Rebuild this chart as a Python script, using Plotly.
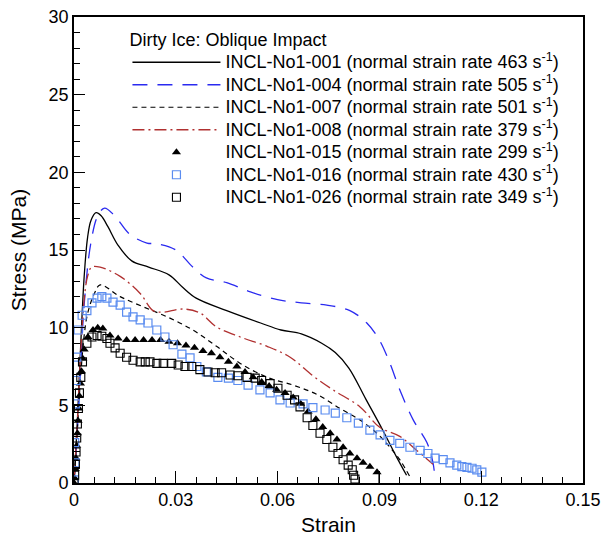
import plotly.graph_objects as go

# ---- data ----
s001_x = [0.0, 0.001, 0.002, 0.003, 0.004, 0.005, 0.0065, 0.008, 0.010, 0.013, 0.017, 0.022, 0.028, 0.032,
          0.036, 0.045, 0.055, 0.061, 0.067, 0.073, 0.077, 0.081, 0.086, 0.091, 0.095, 0.098]
s001_y = [0.0, 4.0, 9.0, 13.3, 15.8, 16.9, 17.4, 17.2, 16.5, 15.3, 14.3, 13.9, 13.4, 12.6,
          11.9, 11.1, 10.3, 9.85, 9.6, 9.0, 8.4, 7.4, 5.4, 3.4, 1.7, 0.5]

s004_x = [0.0, 0.001, 0.002, 0.003, 0.005, 0.007, 0.009, 0.012, 0.0165, 0.0215, 0.0245, 0.030, 0.035, 0.039,
          0.045, 0.052, 0.060, 0.067, 0.0745, 0.0813, 0.0863, 0.090, 0.0931, 0.096, 0.100, 0.104, 0.1058, 0.1064]
s004_y = [0.0, 3.5, 7.5, 11.5, 15.5, 17.2, 17.7, 17.2, 16.0, 15.45, 15.4, 15.0, 13.9, 13.2,
          12.9, 12.3, 11.8, 11.6, 11.45, 11.1, 10.3, 9.2, 7.7, 6.0, 4.05, 2.6, 1.3, 0.2]

s007_x = [0.0, 0.001, 0.002, 0.003, 0.004, 0.006, 0.0077, 0.0136, 0.0203, 0.0274, 0.035, 0.042, 0.049,
          0.057, 0.0646, 0.0716, 0.0784, 0.0843, 0.0893, 0.0931, 0.096, 0.099]
s007_y = [0.0, 3.5, 7.0, 9.5, 10.9, 12.2, 12.75, 12.0, 11.35, 10.7, 9.85, 8.8, 7.7,
          6.8, 6.3, 5.7, 4.8, 4.05, 3.2, 2.3, 1.5, 0.4]

s008_x = [0.0, 0.001, 0.002, 0.003, 0.004, 0.0052, 0.0077, 0.0136, 0.0195, 0.0233, 0.0262, 0.0321, 0.0371,
          0.042, 0.049, 0.0569, 0.0637, 0.0704, 0.0763, 0.0843, 0.090, 0.096, 0.101, 0.1058]
s008_y = [0.0, 4.0, 8.5, 11.8, 13.3, 13.9, 13.9, 13.3, 12.2, 11.1, 11.0, 11.2, 10.95,
          10.05, 9.4, 8.8, 8.1, 6.9, 6.0, 4.9, 3.6, 3.0, 2.1, 1.2]

s015_x = [0.0, 0.0002, 0.0004, 0.0006, 0.0008, 0.001, 0.0012, 0.0014, 0.0016, 0.0019, 0.0022, 0.0026,
          0.003, 0.0041, 0.0056, 0.007, 0.0085, 0.0106, 0.013, 0.0155, 0.018, 0.0205, 0.023, 0.0255,
          0.028, 0.0305, 0.033, 0.0355, 0.038, 0.0405, 0.043, 0.0455, 0.048, 0.0504, 0.0528, 0.0553,
          0.0575, 0.0597, 0.0622, 0.0646, 0.0668, 0.069, 0.0713, 0.0733, 0.0755, 0.0775, 0.0793,
          0.0813, 0.0834, 0.0852, 0.0872, 0.0893]
s015_y = [0.0, 0.3, 0.9, 1.6, 2.4, 3.2, 4.0, 4.8, 5.6, 6.4, 7.2, 8.0,
          8.6, 9.4, 9.85, 10.0, 9.95, 9.5, 9.3, 9.2, 9.2, 9.2, 9.2, 9.2,
          9.1, 9.0, 8.85, 8.7, 8.5, 8.35, 8.1, 7.8, 7.5, 7.15, 6.8, 6.5,
          6.25, 6.0, 5.8, 5.5, 5.1, 4.6, 4.1, 3.6, 3.2, 2.8, 2.3,
          1.9, 1.6, 1.3, 1.05, 0.7]
s015_tail_x = [0.0899, 0.0899]
s015_tail_y = [0.7, 0.0]

s016_x = [0.0001, 0.0003, 0.0002, 0.0004, 0.0006, 0.0008, 0.0012, 0.0024, 0.0038, 0.0053, 0.0068, 0.0082,
          0.0097, 0.0115, 0.0136, 0.0155, 0.0174, 0.0195, 0.0218, 0.0244, 0.0268, 0.0292, 0.0318, 0.0342,
          0.0362, 0.039, 0.0424, 0.0455, 0.0483, 0.0513, 0.0548, 0.0578, 0.0607, 0.0637, 0.0675, 0.0704,
          0.074, 0.077, 0.0804, 0.0838, 0.0872, 0.0902, 0.0931, 0.096, 0.099, 0.102, 0.1043, 0.1064,
          0.1088, 0.1108, 0.1128, 0.1143, 0.1158, 0.1173, 0.1187, 0.1202]
s016_y = [0.2, 1.3, 2.6, 5.1, 6.6, 8.1, 9.85, 10.8, 11.1, 11.6, 11.9, 12.0,
          11.9, 11.65, 11.45, 11.0, 10.7, 10.5, 10.3, 9.85, 9.4, 8.9, 8.3, 8.05,
          7.5, 7.15, 6.8, 6.75, 6.6, 6.3, 6.0, 5.8, 5.35, 5.15, 5.1, 4.85,
          4.7, 4.5, 4.2, 3.85, 3.4, 3.1, 2.75, 2.55, 2.3, 2.1, 1.9, 1.6,
          1.5, 1.3, 1.15, 1.05, 1.0, 0.95, 0.85, 0.7]

s026_x = [0.0, 0.0002, 0.0004, 0.0006, 0.0008, 0.001, 0.0013, 0.0016, 0.002, 0.0025, 0.0038, 0.0053,
          0.0068, 0.0082, 0.0097, 0.0106, 0.0121, 0.0136, 0.0155, 0.0174, 0.0195, 0.021, 0.0224, 0.0244,
          0.0263, 0.0288, 0.0307, 0.0327, 0.0347, 0.0371, 0.0395, 0.0416, 0.0435, 0.046, 0.0483, 0.051,
          0.0534, 0.0553, 0.0578, 0.0601, 0.0628, 0.065, 0.0666, 0.0687, 0.0704, 0.0725, 0.0745, 0.0763,
          0.0778, 0.0793, 0.0808, 0.082, 0.0824, 0.0828]
s026_y = [0.0, 0.5, 1.2, 2.0, 2.9, 3.8, 4.8, 5.8, 6.8, 7.8, 9.0, 9.4,
          9.5, 9.45, 9.3, 9.0, 8.7, 8.35, 8.1, 7.9, 7.8, 7.8, 7.8, 7.7,
          7.7, 7.7, 7.6, 7.5, 7.5, 7.3, 7.15, 7.1, 7.1, 6.95, 6.9, 6.8,
          6.75, 6.6, 6.4, 6.1, 5.65, 5.35, 4.9, 4.2, 3.7, 3.2, 2.8, 2.3,
          1.9, 1.5, 1.15, 0.85, 0.5, 0.25]

specimens = ["INCL-No1-001", "INCL-No1-004", "INCL-No1-007", "INCL-No1-008",
             "INCL-No1-015", "INCL-No1-016", "INCL-No1-026"]
strain_rates = [463, 505, 501, 379, 299, 430, 349]
legend_title = "Dirty Ice: Oblique Impact"
x_ticks = [0, 0.03, 0.06, 0.09, 0.12, 0.15]
x_tick_labels = ["0", "0.03", "0.06", "0.09", "0.12", "0.15"]
y_ticks = [0, 5, 10, 15, 20, 25, 30]

names = ['<span style="font-size:18px">%s (normal strain rate %d s<sup>-1</sup>)</span>' % (s, r)
         for s, r in zip(specimens, strain_rates)]

fig = go.Figure()
fig.add_trace(go.Scatter(x=s001_x, y=s001_y, mode="lines", name=names[0], line_shape="spline",
                         line=dict(color="black", width=1.3)))
fig.add_trace(go.Scatter(x=s004_x, y=s004_y, mode="lines", name=names[1], line_shape="spline",
                         line=dict(color="#2a2af0", width=1.3, dash="15px,10px")))
fig.add_trace(go.Scatter(x=s007_x, y=s007_y, mode="lines", name=names[2], line_shape="spline",
                         line=dict(color="black", width=1.2, dash="5px,4px")))
fig.add_trace(go.Scatter(x=s008_x, y=s008_y, mode="lines", name=names[3], line_shape="spline",
                         line=dict(color="#b03030", width=1.3, dash="12px,4px,2px,4px")))
fig.add_trace(go.Scatter(x=s015_x, y=s015_y, mode="markers", name=names[4],
                         marker=dict(symbol="triangle-up", color="black", size=8)))
fig.add_trace(go.Scatter(x=s015_tail_x, y=s015_tail_y, mode="lines", showlegend=False,
                         line=dict(color="black", width=1.3), hoverinfo="skip"))
fig.add_trace(go.Scatter(x=s016_x, y=s016_y, mode="markers", name=names[5],
                         marker=dict(symbol="square-open", color="#5a8cf0", size=8, line=dict(width=1.2))))
fig.add_trace(go.Scatter(x=s026_x, y=s026_y, mode="markers", name=names[6],
                         marker=dict(symbol="square-open", color="black", size=8, line=dict(width=1.1))))

fig.update_layout(
    width=602, height=537,
    margin=dict(l=74, r=19, t=17, b=54),
    paper_bgcolor="white", plot_bgcolor="white",
    font=dict(family="Liberation Sans, Arial, sans-serif", size=18, color="black"),
    showlegend=True,
    legend=dict(
        title=dict(text=legend_title, font=dict(size=18)),
        x=0.105, y=0.988, xanchor="left", yanchor="top",
        bgcolor="rgba(0,0,0,0)", borderwidth=0,
        font=dict(size=15), itemwidth=88, tracegroupgap=0,
    ),
    xaxis=dict(
        range=[0, 0.15], tickvals=x_ticks, ticktext=x_tick_labels,
        ticks="inside", ticklen=12, tickwidth=1.3, tickcolor="black",
        minor=dict(dtick=0.006, ticks="inside", ticklen=6, tickcolor="black", tickwidth=1),
        showline=True, linecolor="black", linewidth=1.6, mirror=True,
        showgrid=False, zeroline=False, automargin=False,
        title=dict(text="Strain", font=dict(size=21), standoff=8),
        tickfont=dict(size=18),
    ),
    yaxis=dict(
        range=[0, 30], tickvals=y_ticks,
        ticks="inside", ticklen=11, tickwidth=1.3, tickcolor="black",
        minor=dict(dtick=1, ticks="inside", ticklen=6, tickcolor="black", tickwidth=1),
        showline=True, linecolor="black", linewidth=1.6, mirror=True,
        showgrid=False, zeroline=False, automargin=False,
        title=dict(text="Stress (MPa)", font=dict(size=21), standoff=16),
        tickfont=dict(size=18),
    ),
)
fig.write_html("out.html")
